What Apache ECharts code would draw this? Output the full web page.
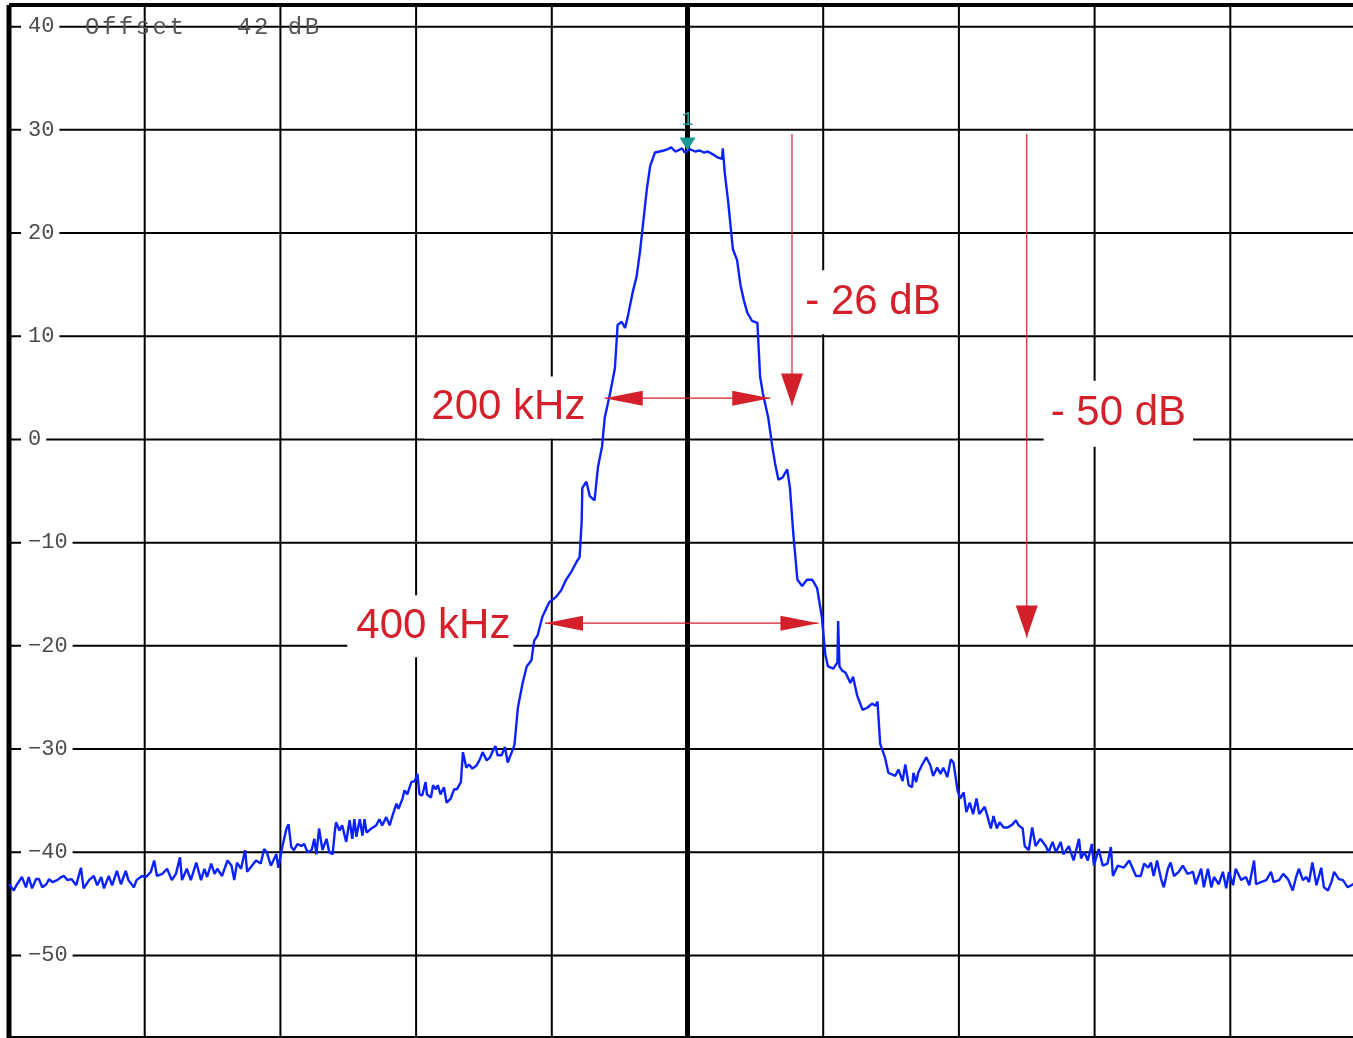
<!DOCTYPE html>
<html>
<head>
<meta charset="utf-8">
<script src="https://cdn.jsdelivr.net/npm/echarts@6/dist/echarts.min.js"></script>
<style>
html,body{margin:0;padding:0;background:#fff;overflow:hidden;}
#c{width:1370px;height:1038px;}
</style>
</head>
<body>
<div id="c"></div>
<script>
// ---- axes ----
const X_MIN = -1000, X_MAX = 1000;   // kHz offset from carrier
const Y_MIN = -58, Y_MAX = 42;       // dB
const xTicks = [-1000, -800, -600, -400, -200, 0, 200, 400, 600, 800, 1000];
const yTicks = [40, 30, 20, 10, 0, -10, -20, -30, -40, -50];
const yLabels = ['40', '30', '20', '10', '0', '−10', '−20', '−30', '−40', '−50'];
const offsetText = 'Offset   42 dB';
const markerLabel = '1';
const markerPos = [0, 28.0];

// ---- trace segments: [kHz, dB] ----
const traceLeftFloor = [[-1000,-43.1],[-993,-43.7],[-989,-43.2],[-981,-42.4],[-975,-43.4],[-971,-42.4],[-966,-43.5],[-960,-42.6],[-956,-42.6],[-951,-43.4],[-945,-43.1],[-941,-42.6],[-936,-42.9],[-929,-42.7],[-923,-42.4],[-919,-42.3],[-914,-42.7],[-908,-42.6],[-901,-43.2],[-894,-41.5],[-890,-43.5],[-882,-42.7],[-875,-42.3],[-870,-43.2],[-864,-42.4],[-860,-43.5],[-853,-42.3],[-848,-43.2],[-841,-41.8],[-835,-43.1],[-828,-41.8],[-824,-42.7],[-816,-43.4],[-812,-42.7],[-804,-42.3],[-798,-42.4],[-791,-41.9],[-786,-40.8],[-782,-42.3],[-774,-42.1],[-767,-41.6],[-760,-42.7],[-754,-42.1],[-748,-40.5],[-745,-42.7],[-738,-41.6],[-732,-42.7],[-724,-41.0],[-717,-42.7],[-712,-41.6],[-708,-42.4],[-702,-41.1],[-697,-42.1],[-693,-41.6],[-686,-42.3],[-678,-40.8],[-672,-41.3],[-668,-42.7],[-664,-41.0],[-658,-41.6],[-652,-39.8],[-649,-41.9],[-642,-41.3],[-636,-40.8],[-629,-41.1],[-624,-39.7],[-620,-40.0],[-614,-41.3],[-606,-40.2],[-603,-41.5]];
const traceLeftShoulder = [[-597,-39.4],[-591,-37.7],[-588,-37.3],[-584,-39.5],[-580,-39.8],[-575,-39.2],[-569,-39.4],[-565,-39.2],[-560,-40.0],[-554,-39.8],[-550,-38.7],[-547,-40.2],[-543,-37.7],[-538,-39.8],[-532,-38.7],[-528,-40.0],[-523,-40.2],[-520,-38.1],[-518,-37.1],[-513,-37.9],[-509,-37.4],[-503,-39.0],[-498,-36.9],[-494,-38.7],[-491,-36.8],[-488,-38.5],[-483,-36.8],[-479,-38.4],[-476,-36.8],[-473,-38.1],[-466,-37.7],[-459,-37.4],[-454,-36.8],[-450,-37.4],[-444,-36.6],[-439,-37.4],[-435,-36.5],[-429,-35.3],[-426,-35.8],[-420,-34.8],[-417,-34.0],[-413,-34.4],[-407,-33.2],[-402,-33.1],[-398,-32.4],[-395,-34.4],[-391,-34.5],[-386,-33.2],[-384,-34.4],[-378,-34.7],[-375,-33.5],[-371,-33.9],[-368,-33.5],[-364,-34.4],[-359,-33.7],[-355,-35.2],[-349,-34.8],[-344,-33.9],[-340,-33.9],[-334,-33.2],[-331,-30.3],[-326,-31.8],[-322,-31.5],[-317,-31.9],[-311,-31.6],[-306,-31.0],[-302,-30.3],[-296,-31.1],[-291,-30.8],[-287,-30.2],[-283,-29.7],[-280,-30.6],[-274,-30.6],[-269,-29.8],[-265,-31.3],[-259,-30.3]];
const traceMainLobe = [[-255,-29.6],[-250,-26.0],[-243,-23.6],[-237,-22.0],[-230,-21.4],[-226,-19.5],[-221,-19.0],[-214,-17.2],[-204,-15.8],[-193,-15.2],[-186,-14.6],[-179,-13.6],[-171,-12.8],[-163,-11.8],[-159,-11.4],[-156,-8.0],[-155,-4.7],[-149,-4.1],[-144,-5.5],[-137,-5.9],[-132,-2.7],[-126,-0.7],[-122,2.1],[-114,4.5],[-107,6.9],[-103,11.1],[-97,11.4],[-92,10.8],[-88,11.9],[-81,14.2],[-75,15.8],[-70,18.2],[-66,20.6],[-60,24.2],[-55,26.5],[-48,27.8],[-41,27.9],[-35,28.0],[-30,28.1],[-24,28.3],[-18,27.9],[-14,28.0],[-8,28.2],[-4,27.8],[1,28.0],[5,28.1],[11,27.9],[18,28.0],[24,27.8],[30,27.9],[38,27.6],[45,27.3],[51,27.2],[52,28.2],[55,25.8],[60,23.0],[66,19.0],[67,18.4],[73,17.4],[78,15.0],[83,13.5],[88,12.3],[95,11.5],[103,11.3],[107,6.1],[111,4.5],[119,2.1],[125,-0.7],[129,-2.3],[134,-3.9],[140,-3.7],[147,-2.9],[151,-4.7],[156,-9.2],[162,-13.6],[169,-14.2],[176,-13.6],[184,-13.6],[191,-14.4],[198,-17.2],[203,-20.8],[207,-22.0],[215,-22.2],[221,-21.6],[222,-17.6],[224,-22.0],[228,-22.4],[233,-22.6],[240,-23.6],[244,-23.0],[250,-24.8],[258,-26.2],[265,-26.0],[272,-25.6],[277,-25.8],[280,-25.4],[284,-29.5]];
const traceRightShoulder = [[291,-30.8],[296,-32.3],[306,-32.6],[311,-32.0],[317,-33.1],[321,-31.5],[326,-33.5],[331,-33.7],[333,-32.3],[337,-33.2],[340,-32.3],[346,-31.5],[352,-30.8],[358,-31.6],[362,-32.6],[368,-31.8],[373,-32.4],[377,-31.8],[383,-32.7],[388,-31.0],[392,-31.3],[398,-34.0],[402,-34.8],[407,-34.2],[411,-36.1],[416,-35.2],[421,-36.3],[426,-34.8],[430,-36.3],[438,-35.6],[442,-36.5],[447,-37.7],[451,-36.5],[456,-37.7],[460,-37.1],[466,-37.6],[472,-37.6],[479,-37.3],[484,-36.9],[488,-37.4],[494,-37.7],[497,-39.4],[503,-39.8],[508,-37.6],[513,-39.4],[520,-38.7],[528,-39.4],[532,-40.0],[538,-39.0],[543,-40.0],[550,-39.0],[554,-40.2],[562,-39.4],[569,-40.8],[577,-38.7],[580,-40.6],[585,-40.0],[590,-40.8],[596,-39.2],[599,-41.3],[606,-39.7],[612,-41.3],[619,-41.1],[624,-39.5],[627,-42.3]];
const traceRightFloor = [[634,-41.3],[643,-41.5],[651,-40.8],[661,-42.3],[668,-42.3],[673,-41.1],[679,-41.5],[683,-41.0],[687,-42.3],[692,-40.8],[698,-42.6],[702,-43.4],[708,-41.6],[712,-41.0],[717,-42.3],[724,-41.9],[730,-41.3],[737,-42.1],[745,-41.9],[749,-43.1],[757,-41.6],[761,-43.4],[767,-41.6],[772,-43.4],[776,-42.4],[783,-43.1],[789,-41.9],[794,-43.5],[798,-41.9],[804,-43.2],[808,-41.6],[816,-42.7],[823,-42.4],[828,-43.2],[835,-40.8],[838,-43.1],[845,-42.9],[853,-42.7],[860,-41.9],[864,-42.9],[872,-42.7],[878,-42.1],[885,-42.6],[892,-43.7],[897,-42.4],[901,-41.6],[907,-42.7],[912,-42.4],[916,-42.9],[921,-41.0],[927,-43.2],[934,-41.5],[938,-43.4],[944,-43.7],[949,-42.9],[953,-41.9],[960,-42.6],[966,-42.7],[973,-43.4],[981,-43.1],[990,-42.6],[1000,-42.8]];

// ---- annotations (data coordinates) ----
const arrow26 = [[154, 29.6], [154, 3.3]];
const arrow50 = [[500, 29.6], [500, -19.2]];
const arrow200 = [[-122, 4.0], [122, 4.0]];
const arrow400 = [[-210, -17.8], [193, -17.8]];
const labelTexts = ['200 kHz', '400 kHz', '- 26 dB', '- 50 dB'];
const labelCenters = [[-264, 3.1], [-379, -18.1], [277, 13.3], [635, 2.5]];

const trace = [].concat(traceLeftFloor, traceLeftShoulder, traceMainLobe, traceRightShoulder, traceRightFloor);

const chart = echarts.init(document.getElementById('c'), null, {renderer: 'canvas'});
chart.setOption({
  animation: false,
  backgroundColor: '#fff',
  grid: {left: 9, top: 6, width: 1357, height: 1033, show: false},
  xAxis: {type: 'value', min: X_MIN, max: X_MAX, show: false},
  yAxis: {type: 'value', min: Y_MIN, max: Y_MAX, show: false},
  series: [{
    type: 'line', data: trace, showSymbol: false, symbol: 'none', z: 5,
    lineStyle: {color: '#0a22ff', width: 2.4}
  }]
});

const P = (pt) => chart.convertToPixel({gridIndex: 0}, pt);
const g = [];
const gTop = P([X_MIN, Y_MAX])[1] - 1, gBottom = P([X_MIN, Y_MIN])[1];
const gLeft = P([X_MIN, 0])[0], gRight = P([X_MAX, 0])[0];

// grid lines
xTicks.forEach(v => {
  const x = P([v, 0])[0];
  const w = (v === 0 || v === X_MIN) ? 5 : 2;
  g.push({type: 'line', z: 1, shape: {x1: x, y1: gTop, x2: x, y2: gBottom}, style: {stroke: '#000', lineWidth: w}});
});
yTicks.forEach(v => {
  const y = P([0, v])[1];
  g.push({type: 'line', z: 1, shape: {x1: gLeft, y1: y, x2: gRight, y2: y}, style: {stroke: '#000', lineWidth: 2}});
});
g.push({type: 'line', z: 1, shape: {x1: gLeft, y1: gTop, x2: gRight, y2: gTop}, style: {stroke: '#000', lineWidth: 4}});
g.push({type: 'line', z: 1, shape: {x1: gLeft, y1: gBottom, x2: gRight, y2: gBottom}, style: {stroke: '#000', lineWidth: 4}});

// y tick labels (inside, masking the grid line)
yTicks.forEach((v, i) => {
  const y = P([0, v])[1];
  g.push({type: 'text', z: 10, x: 21, y: y, style: {
    text: yLabels[i], font: '22px "Liberation Mono", monospace', fill: '#4a4a4a',
    align: 'left', verticalAlign: 'middle', backgroundColor: '#fff', padding: [3, 5, 3, 7]
  }});
});

// "Offset 42 dB" (monospace, wide spacing)
const offY = P([0, 40])[1] + 1;
offsetText.split('').forEach((ch, i) => {
  if (ch === ' ') return;
  g.push({type: 'text', z: 11, x: 85 + i * 16.9, y: offY, style: {
    text: ch, font: '24px "Liberation Mono", monospace', fill: '#555', align: 'left', verticalAlign: 'middle'
  }});
});

// marker 1
const mp = P(markerPos);
g.push({type: 'polygon', z: 12, shape: {points: [[mp[0], mp[1]], [mp[0] - 8, mp[1] - 13], [mp[0] + 8, mp[1] - 13]]}, style: {fill: '#169a96'}});
g.push({type: 'text', z: 12, x: mp[0], y: mp[1] - 31, style: {text: markerLabel, font: '20px "Liberation Mono", monospace', fill: '#2a9a9a', align: 'center', verticalAlign: 'middle'}});

// annotation labels
const RED = '#d3202a';
const pads = [[10, 7, 10, 7], [10, 3, 10, 9], [12, 12, 10, 7], [12, 7, 12, 7]];
labelTexts.forEach((t, i) => {
  const c = P(labelCenters[i]);
  g.push({type: 'text', z: 15, x: c[0], y: c[1], style: {
    text: t, font: '42px "Liberation Sans", Arial, sans-serif', fill: RED,
    align: 'center', verticalAlign: 'middle', backgroundColor: '#fff', padding: pads[i]
  }});
});

// arrows
function head(tip, dir, len, half) {
  const nx = -dir[1], ny = dir[0];
  const bx = tip[0] - dir[0] * len, by = tip[1] - dir[1] * len;
  return {type: 'polygon', z: 21, shape: {points: [[tip[0], tip[1]], [bx + nx * half, by + ny * half], [bx - nx * half, by - ny * half]]}, style: {fill: RED}};
}
function arrow(seg, both, len, half) {
  const a = P(seg[0]), b = P(seg[1]);
  const dx = b[0] - a[0], dy = b[1] - a[1], L = Math.hypot(dx, dy);
  const d = [dx / L, dy / L];
  g.push({type: 'line', z: 20, shape: {x1: a[0], y1: a[1], x2: b[0], y2: b[1]}, style: {stroke: RED, lineWidth: 1.2}});
  g.push(head(b, d, len, half));
  if (both) g.push(head(a, [-d[0], -d[1]], len, half));
}
arrow(arrow26, false, 32, 11);
arrow(arrow50, false, 32, 11);
arrow(arrow200, true, 38, 7.5);
arrow(arrow400, true, 38, 7.5);

chart.setOption({graphic: {elements: g}});
</script>
</body>
</html>
